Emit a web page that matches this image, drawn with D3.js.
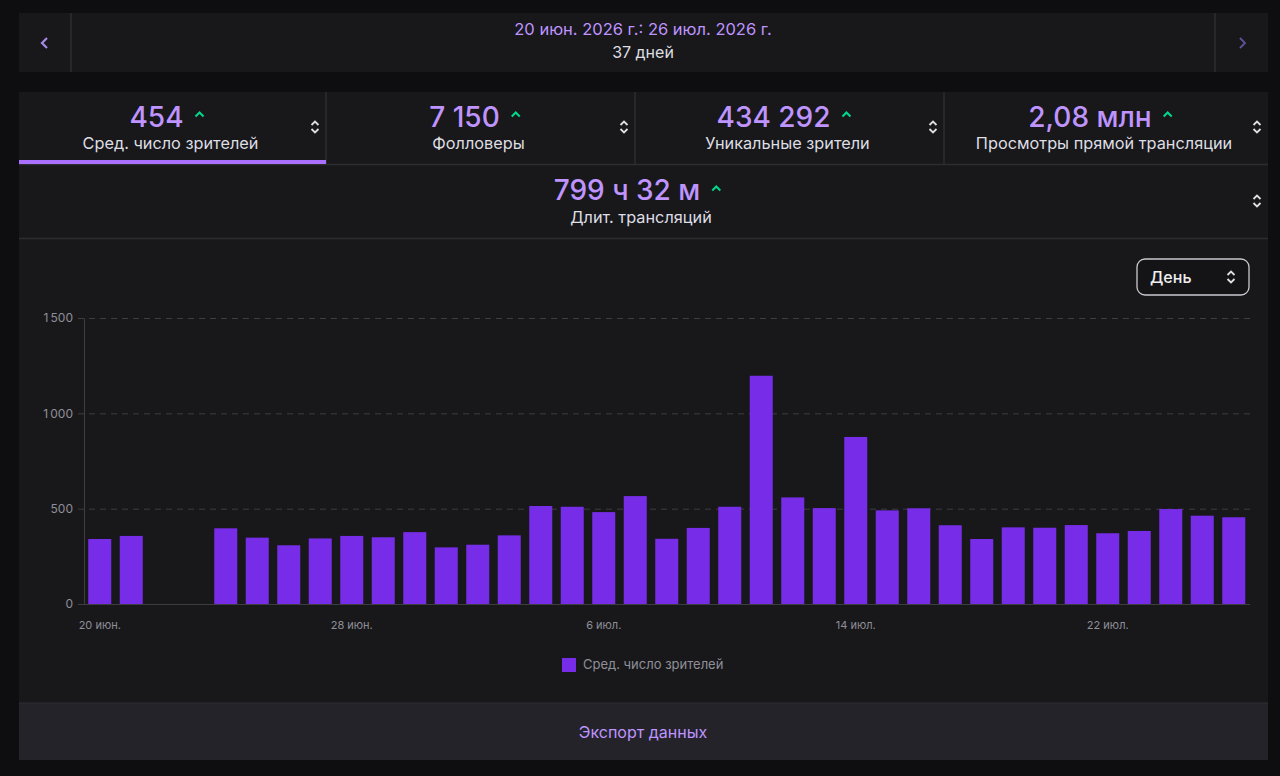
<!DOCTYPE html>
<html>
<head>
<meta charset="utf-8">
<script src="https://cdn.jsdelivr.net/npm/d3@7"></script>
<style>
  html, body { margin: 0; padding: 0; background: #0e0e10; }
  svg { display: block; font-family: Inter, "Noto Sans", sans-serif; }
</style>
</head>
<body>
<svg id="page" width="1280" height="776"></svg>
<script>
// ---------- DATA ----------
const dateRange = "20 июн. 2026 г.: 26 июл. 2026 г.";
const dayCount = "37 дней";
const statValues = ["454", "7 150", "434 292", "2,08 млн"];
const statLabels = ["Сред. число зрителей", "Фолловеры", "Уникальные зрители", "Просмотры прямой трансляции"];
const durationValue = "799 ч 32 м";
const durationLabel = "Длит. трансляций";
const days = [
  "20 июн.","21 июн.","22 июн.","23 июн.","24 июн.","25 июн.","26 июн.","27 июн.","28 июн.","29 июн.","30 июн.",
  "1 июл.","2 июл.","3 июл.","4 июл.","5 июл.","6 июл.","7 июл.","8 июл.","9 июл.","10 июл.","11 июл.",
  "12 июл.","13 июл.","14 июл.","15 июл.","16 июл.","17 июл.","18 июл.","19 июл.","20 июл.","21 июл.",
  "22 июл.","23 июл.","24 июл.","25 июл.","26 июл."
];
const avgViewers = [
  341, 357, null, null, 397, 348, 308, 344, 357, 350, 377,
  297, 311, 360, 514, 510, 482, 566, 342, 399, 510, 1197,
  559, 503, 876, 491, 502, 413, 341, 402, 400, 414,
  371, 383, 498, 463, 455
];
const yTicks = [0, 500, 1000, 1500];
const yTickLabels = ["0", "500", "1\u2009000", "1\u2009500"];
const xTickLabels = ["20 июн.", "28 июн.", "6 июл.", "14 июл.", "22 июл."];
const seriesName = "Сред. число зрителей";
const periodLabel = "День";
const exportLabel = "Экспорт данных";

// ---------- STYLE ----------
const C = {
  page: "#0e0e10", panel: "#18181b", line: "#2c2c31", text: "#dedee3",
  purpleText: "#bf94ff", bar: "#772ce8", green: "#00d98b", axis: "#8f8f98",
  grid: "#3d3d42", exportBg: "#232329"
};

const svg = d3.select("#page");
svg.append("rect").attr("width", 1280).attr("height", 776).attr("fill", C.page);

// ---------- TOP DATE BAR ----------
const topBar = svg.append("g");
topBar.append("rect").attr("x", 19).attr("y", 13).attr("width", 1249).attr("height", 59).attr("fill", C.panel);
topBar.append("line").attr("x1", 71).attr("x2", 71).attr("y1", 13).attr("y2", 72).attr("stroke", C.line).attr("stroke-width", 1.5);
topBar.append("line").attr("x1", 1215).attr("x2", 1215).attr("y1", 13).attr("y2", 72).attr("stroke", C.line).attr("stroke-width", 1.5);
topBar.append("path").attr("d", "M47,38 L42,43 L47,48").attr("fill", "none").attr("stroke", "#a58ae8").attr("stroke-width", 2.2);
topBar.append("path").attr("d", "M1240,38 L1245,43 L1240,48").attr("fill", "none").attr("stroke", "#5f5396").attr("stroke-width", 1.8);
topBar.append("text").attr("x", 643).attr("y", 35).attr("text-anchor", "middle").attr("font-size", 16.5)
  .attr("fill", C.purpleText).text(dateRange);
topBar.append("text").attr("x", 643).attr("y", 58).attr("text-anchor", "middle").attr("font-size", 16)
  .attr("fill", C.text).text(dayCount);

// ---------- STATS ----------
function updown(g, x, y) {
  g.append("path").attr("d", `M${x-3.5},${y-2} L${x},${y-5.5} L${x+3.5},${y-2} M${x-3.5},${y+2} L${x},${y+5.5} L${x+3.5},${y+2}`)
    .attr("fill", "none").attr("stroke", C.text).attr("stroke-width", 1.8);
}
function caret(g, x, y) {
  g.append("path").attr("d", `M${x-4},${y+2.5} L${x},${y-1.5} L${x+4},${y+2.5}`)
    .attr("fill", "none").attr("stroke", C.green).attr("stroke-width", 2);
}
const stats = svg.append("g");
stats.append("rect").attr("x", 19).attr("y", 92).attr("width", 1249).attr("height", 611).attr("fill", C.panel);
const tileEdges = [19, 326, 635, 944, 1268];
statValues.forEach((v, i) => {
  const x0 = tileEdges[i], x1 = tileEdges[i + 1];
  const cx = (x0 + x1) / 2 - 2;
  if (i > 0) stats.append("line").attr("x1", x0).attr("x2", x0).attr("y1", 92).attr("y2", 164).attr("stroke", C.line).attr("stroke-width", 1.5);
  const t = stats.append("text").attr("x", cx - 14).attr("y", 127).attr("text-anchor", "middle").attr("font-size", 28)
    .attr("font-weight", 500).attr("fill", C.purpleText).text(v);
  const w = t.node().getComputedTextLength();
  caret(stats, cx - 14 + w / 2 + 16, 114);
  stats.append("text").attr("x", cx).attr("y", 149).attr("text-anchor", "middle").attr("font-size", 16.3)
    .attr("fill", C.text).text(statLabels[i]);
  updown(stats, x1 - 11, 127);
});
stats.append("line").attr("x1", 19).attr("x2", 1268).attr("y1", 164.5).attr("y2", 164.5).attr("stroke", C.line).attr("stroke-width", 1.5);
stats.append("rect").attr("x", 19).attr("y", 160).attr("width", 307).attr("height", 4).attr("fill", "#a970ff");
{
  const t = stats.append("text").attr("x", 627).attr("y", 200).attr("text-anchor", "middle").attr("font-size", 28)
    .attr("font-weight", 500).attr("fill", C.purpleText).text(durationValue);
  const w = t.node().getComputedTextLength();
  caret(stats, 627 + w / 2 + 16, 188);
  stats.append("text").attr("x", 641).attr("y", 223).attr("text-anchor", "middle").attr("font-size", 16.3)
    .attr("fill", C.text).text(durationLabel);
  updown(stats, 1257, 201);
}
stats.append("line").attr("x1", 19).attr("x2", 1268).attr("y1", 238.5).attr("y2", 238.5).attr("stroke", C.line).attr("stroke-width", 1.5);

// ---------- PERIOD DROPDOWN ----------
const dd = svg.append("g");
dd.append("rect").attr("x", 1137).attr("y", 259).attr("width", 112).attr("height", 36).attr("rx", 8)
  .attr("fill", "#141417").attr("stroke", "#c8c8cf").attr("stroke-width", 1.3);
dd.append("text").attr("x", 1150).attr("y", 283).attr("font-size", 16).attr("font-weight", 500)
  .attr("fill", "#efeff1").text(periodLabel);
updown(dd, 1231, 277);

// ---------- CHART ----------
const x = d3.scaleBand().domain(days).range([84, 1249.5]).paddingInner(0.27).paddingOuter(0.135);
const y = d3.scaleLinear().domain([0, 1500]).range([604, 318]);
const chart = svg.append("g");

const yAxis = d3.axisLeft(y).tickValues(yTicks).tickFormat((d, i) => yTickLabels[i]).tickSize(0).tickPadding(11);
const yg = chart.append("g").attr("transform", "translate(84,0)").call(yAxis);
yg.select(".domain").attr("stroke", C.grid).attr("stroke-width", 1);
yg.selectAll("text").attr("fill", C.axis).attr("font-size", 12).attr("font-family", "Inter, sans-serif");

chart.append("g").selectAll("line").data(yTicks.filter(d => d > 0)).join("line")
  .attr("x1", 78).attr("x2", 1250).attr("y1", d => y(d) + 0.5).attr("y2", d => y(d) + 0.5)
  .attr("stroke", C.grid).attr("stroke-dasharray", "6,5").attr("stroke-width", 1);
chart.append("line").attr("x1", 78).attr("x2", 1250).attr("y1", y(0) + 0.5).attr("y2", y(0) + 0.5)
  .attr("stroke", C.grid).attr("stroke-width", 1);

chart.append("g").selectAll("rect").data(days.map((d, i) => ({ d, v: avgViewers[i] })).filter(o => o.v != null))
  .join("rect")
  .attr("x", o => x(o.d)).attr("width", x.bandwidth())
  .attr("y", o => y(o.v)).attr("height", o => y(0) - y(o.v))
  .attr("fill", C.bar);

const xAxis = d3.axisBottom(x).tickValues(xTickLabels).tickSize(0).tickPadding(17);
const xg = chart.append("g").attr("transform", "translate(0,604)").call(xAxis);
xg.select(".domain").remove();
xg.selectAll("text").attr("fill", C.axis).attr("font-size", 11).attr("font-family", "Inter, sans-serif");

// legend
const lg = svg.append("g");
lg.append("rect").attr("x", 562).attr("y", 658).attr("width", 14).attr("height", 14).attr("fill", C.bar);
lg.append("text").attr("x", 583).attr("y", 669).attr("font-size", 13).attr("fill", C.axis).text(seriesName);

// ---------- EXPORT ----------
svg.append("rect").attr("x", 19).attr("y", 703).attr("width", 1249).attr("height", 57).attr("fill", C.exportBg);
svg.append("line").attr("x1", 19).attr("x2", 1268).attr("y1", 703).attr("y2", 703).attr("stroke", "#2f2f35");
svg.append("text").attr("x", 643).attr("y", 738).attr("text-anchor", "middle").attr("font-size", 16)
  .attr("fill", C.purpleText).text(exportLabel);
</script>
</body>
</html>
